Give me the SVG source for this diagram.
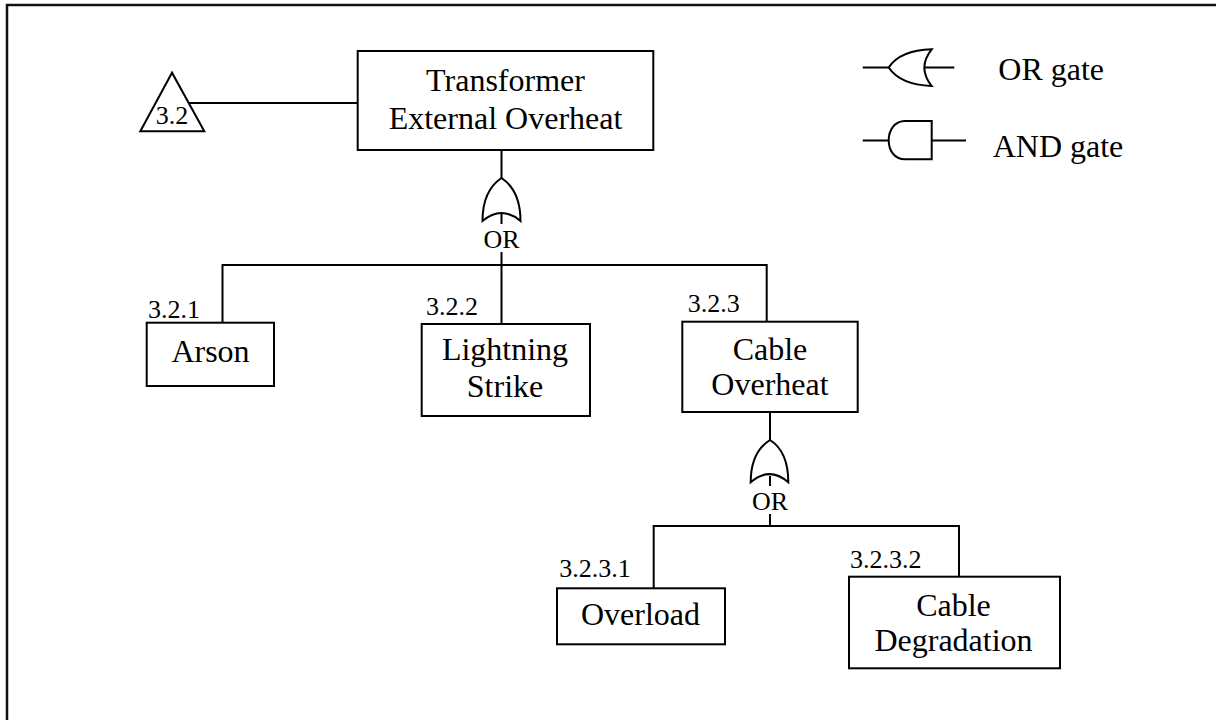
<svg xmlns="http://www.w3.org/2000/svg" width="1216" height="720" viewBox="0 0 1216 720">
<style>
.box{fill:#fff;stroke:#000;stroke-width:2}
.ln{fill:none;stroke:#000;stroke-width:2}
.gate{fill:#fff;stroke:#000;stroke-width:2;stroke-linejoin:miter}
.t{font-family:"Liberation Serif","Times New Roman",serif;font-size:32px;fill:#000;text-anchor:middle}
.id{font-family:"Liberation Serif","Times New Roman",serif;font-size:26px;fill:#000}
.lg{font-family:"Liberation Serif","Times New Roman",serif;font-size:32px;fill:#000}
</style>
<rect width="1216" height="720" fill="#fff"/>
<path d="M7 720 V5 H1216" fill="none" stroke="#111" stroke-width="2.5"/>

<g id="connectors">
  <line class="ln" x1="189" y1="103" x2="358" y2="103"/>
  <line class="ln" x1="501.5" y1="150" x2="501.5" y2="178"/>
  <line class="ln" x1="501.5" y1="213" x2="501.5" y2="224"/>
  <line class="ln" x1="501.5" y1="252" x2="501.5" y2="265"/>
  <path class="ln" d="M222.5 322.7 V265 H766.7 V321.7"/>
  <line class="ln" x1="501.5" y1="265" x2="501.5" y2="324"/>
  <line class="ln" x1="770" y1="412" x2="770" y2="440"/>
  <line class="ln" x1="770" y1="476" x2="770" y2="486"/>
  <line class="ln" x1="770" y1="514" x2="770" y2="526"/>
  <path class="ln" d="M653.7 588.3 V526 H959 V576.7"/>
</g>

<g id="gate-or-1">
  <path class="gate" d="M482.5 221 C482.5 198 491 185 501.5 178 C512 185 520.5 198 520.5 221 Q501.5 205 482.5 221 Z"/>
  <text class="id" x="501.5" y="248" text-anchor="middle">OR</text>
</g>
<g id="gate-or-2">
  <path class="gate" d="M750.7 482.3 C750.7 460 759 447 770 440 C781 447 788.3 460 788.3 482.3 Q769.5 466 750.7 482.3 Z"/>
  <text class="id" x="770" y="510" text-anchor="middle">OR</text>
</g>

<g id="transfer-3-2">
  <polygon class="box" points="172,72.7 140.3,131.3 204.3,131.3"/>
  <text class="id" x="172" y="124" text-anchor="middle">3.2</text>
</g>

<g id="top">
  <rect class="box" x="357.7" y="51" width="295.6" height="99"/>
  <text class="t" x="505.5" y="90.5">Transformer</text>
  <text class="t" x="505.5" y="129">External Overheat</text>
</g>

<g id="arson">
  <text class="id" x="148" y="317.7">3.2.1</text>
  <rect class="box" x="146.7" y="322.7" width="127.3" height="63.3"/>
  <text class="t" x="210.5" y="361.7">Arson</text>
</g>

<g id="lightning">
  <text class="id" x="426" y="315">3.2.2</text>
  <rect class="box" x="421.7" y="324" width="168.3" height="92"/>
  <text class="t" x="505" y="360">Lightning</text>
  <text class="t" x="505" y="396.7">Strike</text>
</g>

<g id="cable-overheat">
  <text class="id" x="687.7" y="311.7">3.2.3</text>
  <rect class="box" x="682.3" y="321.7" width="175.4" height="90.3"/>
  <text class="t" x="770" y="360">Cable</text>
  <text class="t" x="770" y="395">Overheat</text>
</g>

<g id="overload">
  <text class="id" x="559.3" y="576.7">3.2.3.1</text>
  <rect class="box" x="557" y="588.3" width="168" height="56"/>
  <text class="t" x="640.5" y="625">Overload</text>
</g>

<g id="cable-degradation">
  <text class="id" x="850" y="568.3">3.2.3.2</text>
  <rect class="box" x="849" y="576.7" width="211" height="91.6"/>
  <text class="t" x="953.5" y="616">Cable</text>
  <text class="t" x="953.5" y="650.7">Degradation</text>
</g>

<g id="legend-or">
  <line class="ln" x1="862.7" y1="67.5" x2="889" y2="67.5"/>
  <path class="gate" d="M931.7 49.3 C908 50 895 58 888.7 67.5 C895 77 908 85 931.7 86 Q917 67.5 931.7 49.3 Z"/>
  <line class="ln" x1="924" y1="67.5" x2="954.3" y2="67.5"/>
  <text class="lg" x="998.3" y="80">OR gate</text>
</g>

<g id="legend-and">
  <line class="ln" x1="862.7" y1="140.5" x2="889" y2="140.5"/>
  <path class="gate" d="M931.7 121 H905 C894 121 888.7 131 888.7 140.2 C888.7 150 894 159.3 905 159.3 H931.7 Z"/>
  <line class="ln" x1="931.7" y1="140.5" x2="966" y2="140.5"/>
  <text class="lg" x="992.7" y="156.7">AND gate</text>
</g>
</svg>
